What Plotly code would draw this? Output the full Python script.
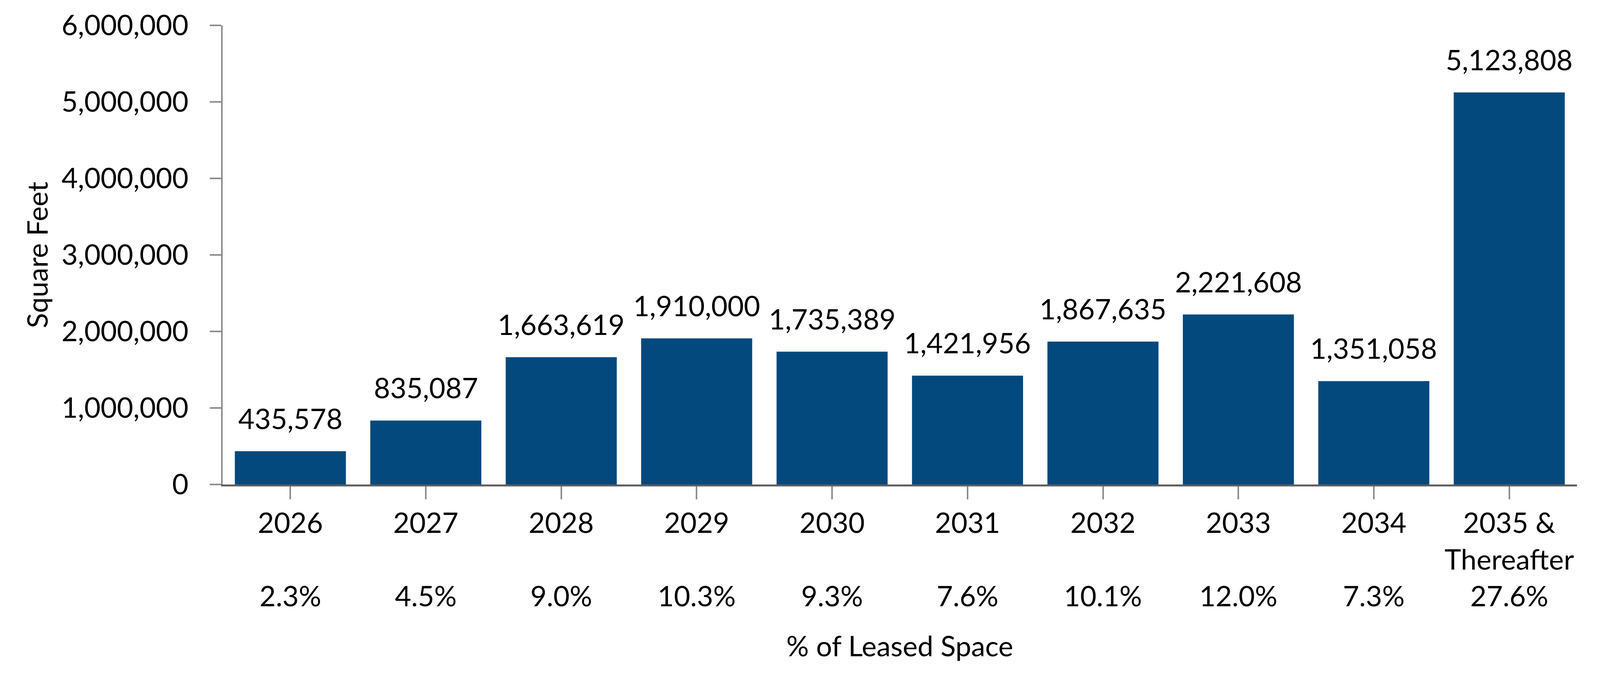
import plotly.graph_objects as go

# lease expiration schedule
years = ['2026', '2027', '2028', '2029', '2030', '2031', '2032', '2033', '2034', '2035 &<br>Thereafter']
square_feet = [435578, 835087, 1663619, 1910000, 1735389, 1421956, 1867635, 2221608, 1351058, 5123808]
pct_leased = ['2.3%', '4.5%', '9.0%', '10.3%', '9.3%', '7.6%', '10.1%', '12.0%', '7.3%', '27.6%']

y_ticks = [0, 1000000, 2000000, 3000000, 4000000, 5000000, 6000000]

# year label, then the % of leased space underneath it
tick_text = []
for yr, p in zip(years, pct_leased):
    if '<br>' in yr:
        tick_text.append(yr + '<br>' + p)
    else:
        tick_text.append(yr + '<br> <br>' + p)

font_name = 'Lato, sans-serif'
fsize = 72

fig = go.Figure()

fig.add_trace(go.Bar(
    x=years,
    y=square_feet,
    marker=dict(color='#03497d', line=dict(width=0)),
    hoverinfo='skip'
))

# value labels above the bars (category axis -> use the category index,
# since '2026' etc. would be read as serial numbers)
for i, v in enumerate(square_feet):
    fig.add_annotation(
        x=i, y=v,
        text=f'{v:,}',
        showarrow=False,
        yanchor='bottom',
        yshift=40,
        font=dict(size=fsize, color='#000000', family=font_name),
    )

fig.update_layout(
    margin=dict(l=562, r=51, t=57, b=521),
    plot_bgcolor='white',
    paper_bgcolor='white',
    bargap=0.18,
    showlegend=False,
    font=dict(family=font_name, size=fsize, color='#000000'),
    xaxis=dict(
        type='category',
        tickmode='array',
        tickvals=years,
        ticktext=tick_text,
        showline=True,
        linecolor='#5f5f5f',
        linewidth=5,
        ticks='outside',
        ticklen=33,
        tickwidth=4,
        tickcolor='#8c8c8c',
        tickfont=dict(size=fsize),
        showgrid=False,
        title=dict(text='% of Leased Space', font=dict(size=fsize), standoff=66),
    ),
    yaxis=dict(
        range=[0, 6000000],
        tickvals=y_ticks,
        tickformat=',',
        showline=True,
        linecolor='#8c8c8c',
        linewidth=4,
        ticks='outside',
        ticklen=29,
        tickwidth=4,
        tickcolor='#8c8c8c',
        tickfont=dict(size=fsize),
        ticklabelstandoff=40,
        showgrid=False,
        zeroline=False,
        title=dict(text='Square Feet', font=dict(size=fsize), standoff=12),
    ),
)

fig.write_html('out.html')
